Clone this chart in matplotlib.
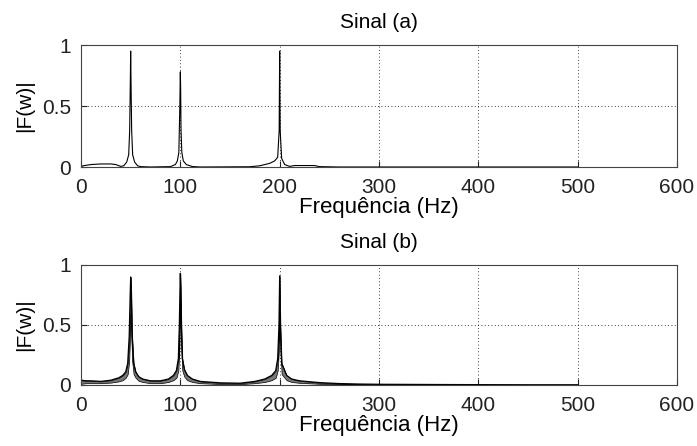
import matplotlib
matplotlib.use("Agg")
import matplotlib.pyplot as plt

plt.rcParams['font.family'] = ['Liberation Sans', 'DejaVu Sans']

# ---- Signal (a): magnitude spectrum points ----
freq_a = [0, 2, 10, 20, 30, 35, 40, 43, 46, 48, 49, 49.5, 50, 50.5, 51, 52, 54, 57, 60, 70,
          90, 95, 97, 98.5, 99.5, 100, 100.3, 100.7, 101.5, 103, 106, 112, 120,
          170, 180, 190, 195, 198, 199.5, 200, 200.5, 202, 205, 210, 215, 235, 240, 260, 500]
mag_a = [0.0, 0.01, 0.02, 0.025, 0.025, 0.02, 0.005, 0.01, 0.04, 0.1, 0.3, 0.6, 0.95, 0.6, 0.3, 0.1, 0.04, 0.01, 0.003, 0.0,
         0.003, 0.02, 0.05, 0.12, 0.5, 0.78, 0.65, 0.3, 0.12, 0.05, 0.02, 0.004, 0.0,
         0.002, 0.01, 0.03, 0.05, 0.08, 0.3, 0.95, 0.3, 0.07, 0.02, 0.005, 0.012, 0.012, 0.003, 0.0, 0.0]

# ---- Signal (b): upper / lower envelope of rippled spectrum ----
freq_b = [0, 5, 10, 20, 30, 38, 42, 45, 47, 48.5, 49.5, 50, 50.5, 51.5, 53, 55, 58, 62, 70, 80,
          88, 93, 96, 98, 99, 99.6, 100, 100.4, 101, 102, 104, 107, 112, 120, 140, 160,
          175, 185, 192, 196, 198, 199.3, 200, 200.7, 202, 204, 207, 212, 220, 240, 260,
          280, 300, 330, 360, 400, 450, 500]
upper_b = [0.04, 0.035, 0.035, 0.03, 0.04, 0.06, 0.08, 0.11, 0.18, 0.4, 0.75, 0.9, 0.8, 0.4, 0.18, 0.11, 0.07, 0.05, 0.035, 0.035,
           0.05, 0.08, 0.12, 0.22, 0.5, 0.78, 0.93, 0.8, 0.5, 0.22, 0.13, 0.08, 0.05, 0.03, 0.018, 0.015,
           0.03, 0.05, 0.08, 0.12, 0.22, 0.5, 0.91, 0.5, 0.18, 0.14, 0.08, 0.05, 0.035, 0.02, 0.012,
           0.008, 0.006, 0.005, 0.004, 0.003, 0.002, 0.002]
lower_b = [0.01, 0.015, 0.015, 0.015, 0.02, 0.03, 0.04, 0.06, 0.09, 0.2, 0.45, 0.6, 0.45, 0.2, 0.09, 0.06, 0.035, 0.025, 0.015, 0.015,
           0.025, 0.04, 0.06, 0.12, 0.3, 0.5, 0.7, 0.5, 0.3, 0.12, 0.07, 0.04, 0.025, 0.015, 0.008, 0.007,
           0.015, 0.025, 0.04, 0.06, 0.12, 0.3, 0.6, 0.3, 0.09, 0.07, 0.04, 0.025, 0.018, 0.01, 0.005,
           0.003, 0.002, 0.002, 0.001, 0.001, 0.0, 0.0]

titles = ["Sinal (a)", "Sinal (b)"]
xticks = [0, 100, 200, 300, 400, 500, 600]
yticks = [0, 0.5, 1]
yticklabels = ["0", "0.5", "1"]

fig = plt.figure(figsize=(6.97, 4.46), dpi=100)
W, H = 697, 446
ax1 = fig.add_axes([81 / W, 1 - 167 / H, 596 / W, 122 / H])
ax2 = fig.add_axes([81 / W, 1 - 385 / H, 596 / W, 120 / H])

ax1.plot(freq_a, mag_a, color='black', lw=0.8)
ax2.fill_between(freq_b, lower_b, upper_b, facecolor='#777777', lw=0.5, edgecolor='black')
ax2.plot(freq_b, upper_b, color='black', lw=0.9)

for ax, t in zip([ax1, ax2], titles):
    ax.set_xlim(0, 600)
    ax.set_ylim(0, 1)
    ax.set_xticks(xticks)
    ax.set_yticks(yticks)
    ax.set_yticklabels(yticklabels)
    ax.tick_params(direction='in', length=4, labelsize=15, width=0.8, pad=7, colors='#222222')
    ax.tick_params(axis='x', pad=8)
    ax.grid(True, linestyle=(0, (1, 3)), color='black', lw=0.6)
    ax.set_axisbelow(True)
    ax.set_title(t, fontsize=15, pad=12)
    ax.set_xlabel("Frequência (Hz)", fontsize=16, labelpad=0)
    ax.set_ylabel("|F(w)|", fontsize=15, labelpad=6)
    for s in ax.spines.values():
        s.set_linewidth(0.8)
        s.set_color('#444444')

fig.savefig("out.png", dpi=100)
